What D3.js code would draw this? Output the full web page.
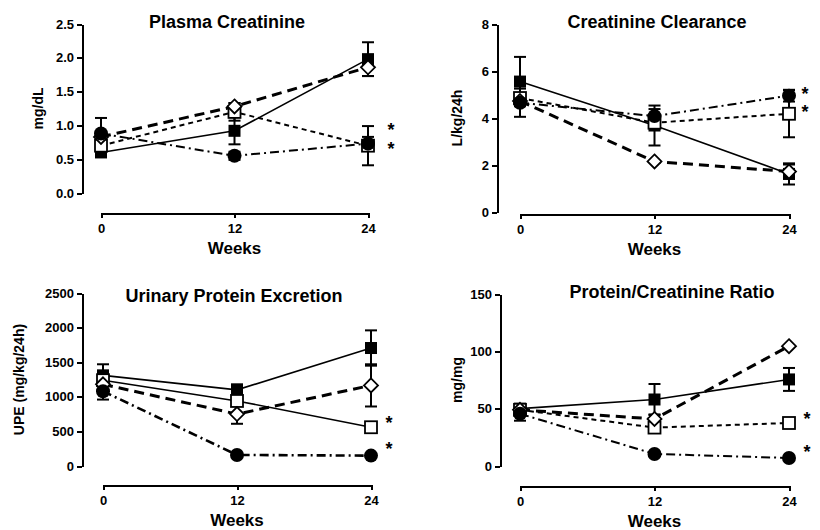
<!DOCTYPE html>
<html>
<head>
<meta charset="utf-8">
<title>Renal function panels</title>
<script src="https://d3js.org/d3.v7.min.js"></script>
<style>
 body { margin: 0; background: #fff; }
 text { font-family: "Liberation Sans", Arial, sans-serif; font-weight: bold; fill: #000; }
 .axis path, .axis line { stroke: #000; stroke-width: 2; fill: none; shape-rendering: crispEdges; }
 .axis text { font-size: 13px; font-family: "Liberation Sans", Arial, sans-serif; font-weight: bold; }
 .title { font-size: 18px; }
 .ylabel { font-size: 14px; }
 .xlabel { font-size: 17px; }
 .star { font-size: 18px; }
</style>
</head>
<body>
<div id="chart"></div>
<script>
// x categories (weeks)
var weeks = [0, 12, 24];
var titles = ["Plasma Creatinine", "Creatinine Clearance", "Urinary Protein Excretion", "Protein/Creatinine Ratio"];
var yLabels = ["mg/dL", "L/kg/24h", "UPE (mg/kg/24h)", "mg/mg"];
var yMax = [2.5, 8, 2500, 150];
var yTickValues = [[0, 0.5, 1, 1.5, 2, 2.5], [0, 2, 4, 6, 8], [0, 500, 1000, 1500, 2000, 2500], [0, 50, 100, 150]];

// Plasma creatinine (mean, sem)
var pcSquare = [0.60, 0.92, 1.98], pcSquareSem = [0.05, 0.20, 0.25];
var pcOpen = [0.70, 1.20, 0.70], pcOpenSem = [0.05, 0.13, 0.29];
var pcDiamond = [0.83, 1.28, 1.86], pcDiamondSem = [0, 0.05, 0.13];
var pcCircle = [0.88, 0.55, 0.73], pcCircleSem = [0.23, 0.06, 0.10];

// Creatinine clearance
var ccSquare = [5.55, 3.68, 1.62], ccSquareSem = [1.05, 0.85, 0.45];
var ccOpen = [4.85, 3.80, 4.18], ccOpenSem = [0.10, 0.20, 1.00];
var ccDiamond = [4.72, 2.15, 1.72], ccDiamondSem = [0, 0, 0.30];
var ccCircle = [4.65, 4.08, 4.95], ccCircleSem = [0.60, 0.30, 0.25];

// Urinary protein excretion
var upSquare = [1310, 1100, 1705], upSquareSem = [160, 80, 255];
var upOpen = [1240, 940, 560], upOpenSem = [50, 40, 0];
var upDiamond = [1180, 750, 1165], upDiamondSem = [0, 140, 305];
var upCircle = [1080, 160, 150], upCircleSem = [120, 0, 0];

// Protein/creatinine ratio
var prSquare = [50, 58, 75.5], prSquareSem = [3, 13.5, 10];
var prOpen = [49, 33.5, 37.5], prOpenSem = [2, 3, 0];
var prDiamond = [49, 41, 104.5], prDiamondSem = [0, 4, 0];
var prCircle = [45.5, 10.5, 7], prCircleSem = [6, 0, 0];

// significance stars at week 24 (value where the star sits)
var starValues = [[1.0, 0.72], [5.25, 4.45], [700, 320], [45, 17]];

var panelSeries = [
  [[pcSquare, pcSquareSem], [pcOpen, pcOpenSem], [pcDiamond, pcDiamondSem], [pcCircle, pcCircleSem]],
  [[ccSquare, ccSquareSem], [ccOpen, ccOpenSem], [ccDiamond, ccDiamondSem], [ccCircle, ccCircleSem]],
  [[upSquare, upSquareSem], [upOpen, upOpenSem], [upDiamond, upDiamondSem], [upCircle, upCircleSem]],
  [[prSquare, prSquareSem], [prOpen, prOpenSem], [prDiamond, prDiamondSem], [prCircle, prCircleSem]]
];

// layout of each panel in pixels
var layout = [
  {axisX: 82, x0: 101, x1: 368, yTop: 24, yBot: 193, xAxisY: 213, titleX: 227, titleY: 28, ylabX: 43, starX: 391},
  {axisX: 497, x0: 520, x1: 789, yTop: 24, yBot: 212, xAxisY: 214, titleX: 657, titleY: 28, ylabX: 462, starX: 805},
  {axisX: 82, x0: 103, x1: 371, yTop: 293, yBot: 466, xAxisY: 485, titleX: 234, titleY: 302, ylabX: 24, starX: 389},
  {axisX: 500, x0: 520, x1: 789, yTop: 294, yBot: 466, xAxisY: 486, titleX: 672, titleY: 298, ylabX: 462, starX: 807}
];

// line style per series: filled square, open square, diamond, circle
var styles = [
  {width: 1.6, dash: null},
  {width: 2, dash: "5,4"},
  {width: 3, dash: "10,6"},
  {width: 2, dash: "9,4,2,4"}
];

var svg = d3.select("#chart").append("svg")
  .attr("width", 820)
  .attr("height", 530);

layout.forEach(function(L, p) {
  var xScale = d3.scaleLinear().domain([0, 24]).range([L.x0, L.x1]);
  var yScale = d3.scaleLinear().domain([0, yMax[p]]).range([L.yBot, L.yTop]);
  var g = svg.append("g");

  g.append("g")
    .attr("class", "axis")
    .attr("transform", "translate(" + L.axisX + ",0)")
    .call(d3.axisLeft(yScale).tickValues(yTickValues[p]).tickSize(5).tickSizeOuter(0)
      .tickFormat(p == 0 ? d3.format(".1f") : d3.format("d")));

  g.append("g")
    .attr("class", "axis")
    .attr("transform", "translate(0," + L.xAxisY + ")")
    .call(d3.axisBottom(xScale).tickValues(weeks).tickSize(5).tickSizeOuter(0).tickPadding(6));

  g.append("text").attr("class", "title")
    .attr("x", L.titleX).attr("y", L.titleY)
    .attr("text-anchor", "middle").text(titles[p]);

  g.append("text").attr("class", "xlabel")
    .attr("x", (L.x0 + L.x1) / 2).attr("y", L.xAxisY + 41)
    .attr("text-anchor", "middle").text("Weeks");

  g.append("text").attr("class", "ylabel")
    .attr("transform", "translate(" + L.ylabX + "," + ((L.yTop + L.yBot) / 2) + ") rotate(-90)")
    .attr("text-anchor", "middle").text(yLabels[p]);

  var line = d3.line().x(function(d, i) { return xScale(weeks[i]); }).y(function(d) { return yScale(d); });

  // lines
  panelSeries[p].forEach(function(s, k) {
    var st = styles[k];
    var w = st.width, dash = st.dash;
    if (p == 2 && k == 1) { dash = null; w = 1.6; }
    if (p == 2 && k == 3) { w = 2.6; }
    g.append("path")
      .datum(s[0])
      .attr("d", line)
      .attr("fill", "none")
      .attr("stroke", "#000")
      .attr("stroke-width", w)
      .attr("stroke-dasharray", dash);
  });

  // error bars
  panelSeries[p].forEach(function(s) {
    s[0].forEach(function(v, i) {
      var e = s[1][i];
      if (!e) return;
      var cx = xScale(weeks[i]);
      g.append("line").attr("x1", cx).attr("x2", cx)
        .attr("y1", yScale(v - e)).attr("y2", yScale(v + e))
        .attr("stroke", "#000").attr("stroke-width", 2);
      [v - e, v + e].forEach(function(q) {
        g.append("line").attr("x1", cx - 6).attr("x2", cx + 6)
          .attr("y1", yScale(q)).attr("y2", yScale(q))
          .attr("stroke", "#000").attr("stroke-width", 2);
      });
    });
  });

  // markers
  panelSeries[p].forEach(function(s, k) {
    s[0].forEach(function(v, i) {
      var cx = xScale(weeks[i]), cy = yScale(v);
      if (k == 0) {
        g.append("rect").attr("x", cx - 6).attr("y", cy - 6).attr("width", 12).attr("height", 12).attr("fill", "#000");
      } else if (k == 1) {
        g.append("rect").attr("x", cx - 6).attr("y", cy - 6).attr("width", 12).attr("height", 12)
          .attr("fill", "#fff").attr("stroke", "#000").attr("stroke-width", 1.8);
      } else if (k == 2) {
        g.append("path").attr("d", "M" + cx + "," + (cy - 7) + "L" + (cx + 7) + "," + cy + "L" + cx + "," + (cy + 7) + "L" + (cx - 7) + "," + cy + "Z")
          .attr("fill", "#fff").attr("stroke", "#000").attr("stroke-width", 1.8);
      } else {
        g.append("circle").attr("cx", cx).attr("cy", cy).attr("r", 7).attr("fill", "#000");
      }
    });
  });

  starValues[p].forEach(function(v) {
    g.append("text").attr("class", "star")
      .attr("x", L.starX).attr("y", yScale(v) + 11)
      .attr("text-anchor", "middle").text("*");
  });
});
</script>
</body>
</html>
